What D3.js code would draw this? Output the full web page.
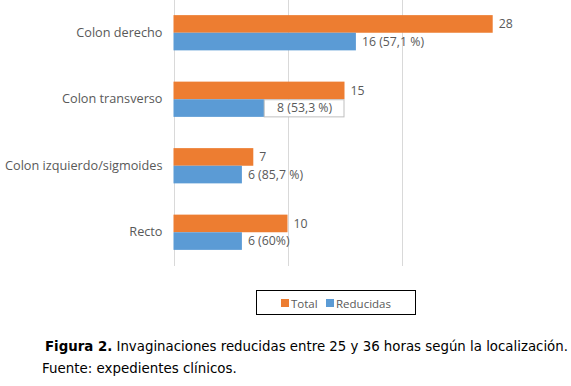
<!DOCTYPE html>
<html><head><meta charset="utf-8">
<script src="https://cdn.jsdelivr.net/npm/d3@7/dist/d3.min.js"></script>
<style>body{margin:0;background:#fff}svg{display:block}
.cap{font-family:"DejaVu Sans",Verdana,sans-serif;font-size:12px;fill:#000}
.lbl{font-family:"Open Sans","Noto Sans",sans-serif;fill:#595959}
</style>
</head><body>
<svg id="c" width="571" height="386"></svg>
<script>
const categories = ["Colon derecho", "Colon transverso", "Colon izquierdo/sigmoides", "Recto"];
const seriesNames = ["Total", "Reducidas"];
const totalValues = [28, 15, 7, 10];
const reducedValues = [16, 8, 6, 6];
const totalLabels = ["28", "15", "7", "10"];
const reducedLabels = ["16 (57,1 %)", "8 (53,3 %)", "6 (85,7 %)", "6 (60%)"];
const xTicks = [0, 10, 20];
const colors = ["#ed7d31", "#5b9bd5"];

const svg = d3.select("#c");
const x = d3.scaleLinear().domain([0, 30]).range([173.5, 515.5]);
const y = d3.scaleBand().domain(categories).range([-0.5, 265.5]).paddingInner(0.47).paddingOuter(0.235);
const ys = d3.scaleBand().domain(seriesNames).range([0, y.bandwidth()]);

svg.append("g").selectAll("line").data(xTicks).join("line")
  .attr("x1", d => Math.round(x(d)) + 0.5).attr("x2", d => Math.round(x(d)) + 0.5)
  .attr("y1", 0).attr("y2", 266)
  .attr("stroke", "#d9d9d9").attr("stroke-width", 1);

const yAxis = d3.axisLeft(y).tickSize(0).tickPadding(11);
const ga = svg.append("g").attr("transform", `translate(${x(0)},0)`).call(yAxis);
ga.select(".domain").remove();
ga.selectAll("text").attr("class", "lbl").attr("font-family", null).style("font-size", "12.7px").attr("fill", "#595959");

const rows = categories.map((c, i) => ({c, t: totalValues[i], r: reducedValues[i], tl: totalLabels[i], rl: reducedLabels[i]}));

const g = svg.append("g");
const dl = 12.3;
rows.forEach((d, i) => {
  const y0 = y(d.c);
  g.append("rect").attr("x", x(0)).attr("y", y0 + ys("Total"))
    .attr("width", x(d.t) - x(0)).attr("height", ys.bandwidth()).attr("fill", colors[0]);
  g.append("rect").attr("x", x(0)).attr("y", y0 + ys("Reducidas"))
    .attr("width", x(d.r) - x(0)).attr("height", ys.bandwidth()).attr("fill", colors[1]);
  g.append("text").attr("class", "lbl").attr("x", x(d.t) + 6).attr("y", y0 + ys("Total") + ys.bandwidth() / 2)
    .attr("dy", "0.35em").style("font-size", dl + "px").attr("fill", "#404040").text(d.tl);
  if (i === 1) {
    g.append("rect").attr("x", x(d.r) - 0.5).attr("y", y0 + ys("Reducidas") + 0.5)
      .attr("width", x(d.t) - x(d.r)).attr("height", ys.bandwidth() - 0.5)
      .attr("fill", "#fff").attr("stroke", "#bfbfbf").attr("stroke-width", 1);
    g.append("text").attr("class", "lbl").attr("x", (x(d.r) + x(d.t)) / 2).attr("y", y0 + ys("Reducidas") + ys.bandwidth() / 2)
      .attr("dy", "0.35em").attr("text-anchor", "middle").style("font-size", dl + "px").attr("fill", "#404040").text(d.rl);
  } else {
    g.append("text").attr("class", "lbl").attr("x", x(d.r) + 6).attr("y", y0 + ys("Reducidas") + ys.bandwidth() / 2)
      .attr("dy", "0.35em").style("font-size", dl + "px").attr("fill", "#404040").text(d.rl);
  }
});

const lg = svg.append("g");
lg.append("rect").attr("x", 256.5).attr("y", 290.5).attr("width", 159).attr("height", 24)
  .attr("fill", "#fff").attr("stroke", "#000").attr("stroke-width", 1);
const legendItems = [{n: seriesNames[0], c: colors[0], x: 281}, {n: seriesNames[1], c: colors[1], x: 326}];
legendItems.forEach(it => {
  lg.append("rect").attr("x", it.x).attr("y", 299).attr("width", 8).attr("height", 8).attr("fill", it.c);
  lg.append("text").attr("class", "lbl").attr("x", it.x + 10).attr("y", 303.5).attr("dy", "0.35em")
    .style("font-size", "11.5px").attr("fill", "#404040").text(it.n);
});

const cap = svg.append("text").attr("class", "cap").attr("x", 45).attr("y", 351);
cap.append("tspan").attr("font-weight", "bold").text("Figura 2.");
cap.append("tspan").text(" Invaginaciones reducidas entre 25 y 36 horas según la localización.");
const src = svg.append("text").attr("class", "cap").attr("x", 42).attr("y", 373)
  .text("Fuente: expedientes clínicos.");
// fit caption widths to the reference
const fit = (sel, target) => {
  const w = sel.node().getComputedTextLength();
  if (w > 0) sel.style("font-size", (12 * target / w).toFixed(2) + "px");
};
fit(cap, 523);
fit(src, 195);
</script>
</body></html>
